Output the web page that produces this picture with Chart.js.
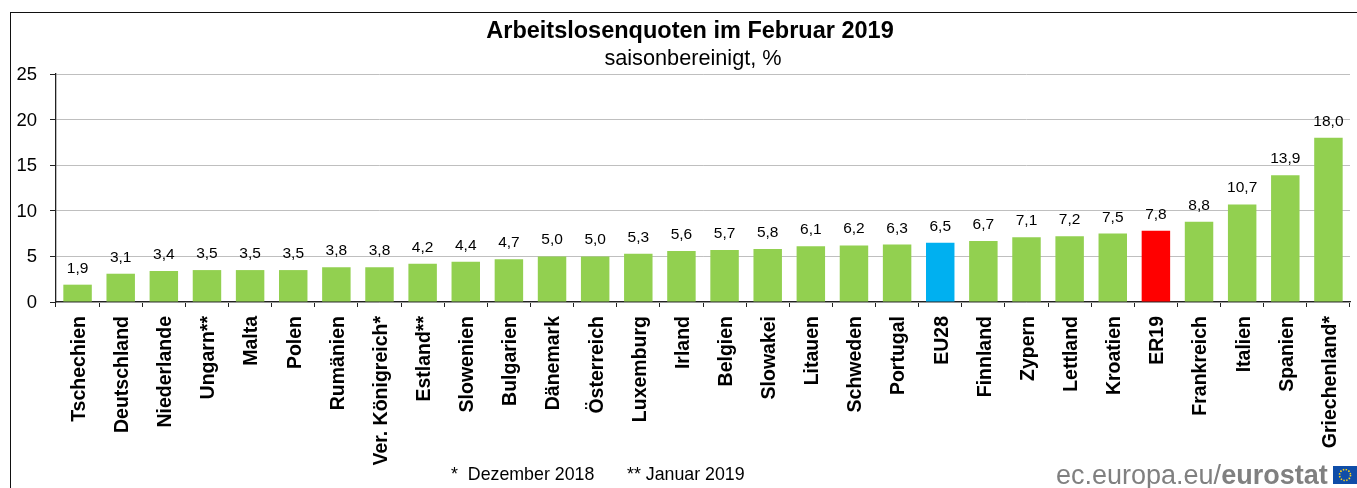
<!DOCTYPE html>
<html><head><meta charset="utf-8">
<style>
html,body{margin:0;padding:0;background:#fff;overflow:hidden}
#wrap{position:relative;width:1357px;height:488px;font-family:"Liberation Sans",Arial,sans-serif}
#c{position:absolute;left:0;top:0}
#frame{position:absolute;left:10px;top:12px;width:1357px;height:500px;border:1px solid #111;box-sizing:border-box}
.t{position:absolute;white-space:nowrap;color:#000}
#flag{position:absolute;left:1333px;top:466px;width:24px;height:18px}
</style></head><body>
<div id="wrap">
<div id="frame"></div>
<canvas id="c" width="1357" height="488"></canvas>
<div class="t" style="left:0;width:1380px;text-align:center;top:17px;font-size:23.5px;font-weight:bold">Arbeitslosenquoten im Februar 2019</div>
<div class="t" style="left:0;width:1386px;text-align:center;top:45px;font-size:21.7px">saisonbereinigt, %</div>
<div class="t" style="left:451px;top:464px;font-size:17.8px">*&nbsp; Dezember 2018</div>
<div class="t" style="left:627px;top:464px;font-size:17.8px">** Januar 2019</div>
<div class="t" style="left:1056px;top:460px;font-size:27px;color:#808080">ec.europa.eu/<b>eurostat</b></div>
<svg id="flag" viewBox="0 0 24 18"><rect width="24" height="18" fill="#0F4DA8"/><circle cx="12" cy="9" r="5.5" fill="none" stroke="#FFD617" stroke-width="1.6" stroke-dasharray="1.4 1.48"/></svg>
</div>
<script src="https://cdn.jsdelivr.net/npm/chart.js@4/dist/chart.umd.min.js"></script>
<script>
const categories = ["Tschechien","Deutschland","Niederlande","Ungarn**","Malta","Polen","Rumänien","Ver. Königreich*","Estland**","Slowenien","Bulgarien","Dänemark","Österreich","Luxemburg","Irland","Belgien","Slowakei","Litauen","Schweden","Portugal","EU28","Finnland","Zypern","Lettland","Kroatien","ER19","Frankreich","Italien","Spanien","Griechenland*"];
const values = [1.9,3.1,3.4,3.5,3.5,3.5,3.8,3.8,4.2,4.4,4.7,5.0,5.0,5.3,5.6,5.7,5.8,6.1,6.2,6.3,6.5,6.7,7.1,7.2,7.5,7.8,8.8,10.7,13.9,18.0];
const yTicks = [0,5,10,15,20,25];
const green = "#92D050", blue = "#00B0F0", red = "#FF0000";
const barColors = categories.map(c => c === "EU28" ? blue : c === "ER19" ? red : green);

const labelPlugin = {
  id: "valueLabels",
  afterDatasetsDraw(chart) {
    const ctx = chart.ctx, meta = chart.getDatasetMeta(0);
    ctx.save();
    ctx.font = '15.5px "Liberation Sans", Arial, sans-serif';
    ctx.fillStyle = "#000"; ctx.textAlign = "center"; ctx.textBaseline = "alphabetic";
    meta.data.forEach((bar, i) => {
      ctx.fillText(values[i].toFixed(1).replace(".", ","), bar.x, bar.y - 12);
    });
    ctx.restore();
  }
};
new Chart(document.getElementById("c"), {
  type: "bar",
  data: { labels: categories, datasets: [{ data: values, backgroundColor: barColors, barPercentage: 0.66, categoryPercentage: 1 }] },
  options: {
    responsive: false, animation: false,
    layout: { padding: { left: 0, right: 7, top: 74, bottom: 0 } },
    plugins: { legend: { display: false }, title: { display: false }, tooltip: { enabled: false } },
    scales: {
      x: {
        afterFit(s) { s.height = 186; s.paddingLeft = 0; s.paddingRight = 0; },
        grid: { drawOnChartArea: false, offset: true, tickColor: "#222", tickLength: 5, lineWidth: 1 },
        border: { color: "#222", width: 1.3 },
        ticks: { minRotation: 90, maxRotation: 90, autoSkip: false, padding: 9, labelOffset: 2, color: "#000",
          font: { family: '"Liberation Sans", Arial, sans-serif', size: 19.5, weight: "bold" } }
      },
      y: {
        min: 0, max: 25,
        afterFit(s) { s.width = 56; },
        afterBuildTicks(s) { s.ticks = yTicks.map(v => ({ value: v })); },
        grid: { color: "#BFBFBF", tickColor: "#222", tickLength: 6, lineWidth: 1 },
        border: { color: "#222", width: 1.3 },
        ticks: { padding: 13, labelOffset: 1, color: "#000", font: { family: '"Liberation Sans", Arial, sans-serif', size: 18.5 } }
      }
    }
  },
  plugins: [labelPlugin]
});
</script>
</body></html>
